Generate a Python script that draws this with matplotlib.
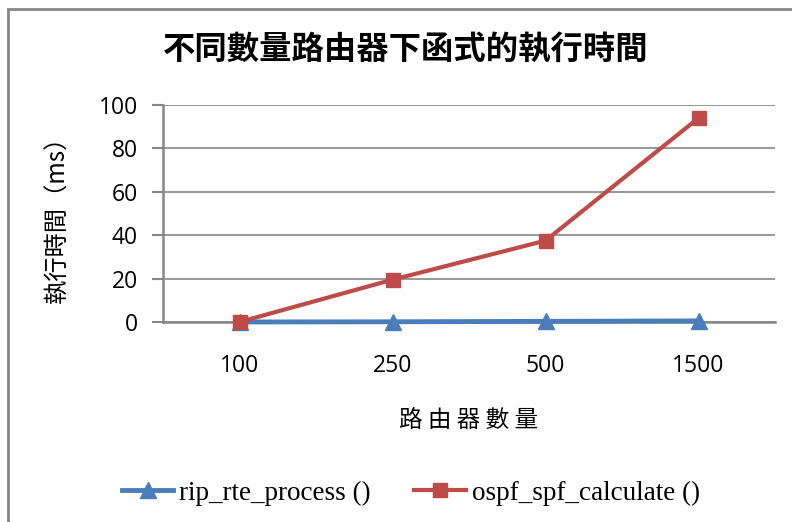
import matplotlib
matplotlib.use('Agg')
import matplotlib.pyplot as plt
from matplotlib.patches import Rectangle

# Chart data
routers = ['100', '250', '500', '1500']
rip_rte = [0.0, 0.1, 0.3, 0.5]
ospf_spf = [0.0, 19.5, 37.5, 94.0]
y_ticks = [0, 20, 40, 60, 80, 100]

cjk = ['Noto Sans CJK TC', 'DejaVu Sans']
plt.rcParams['font.family'] = cjk

fig = plt.figure(figsize=(7.92, 5.22), dpi=100)
ax = fig.add_axes([163 / 792, 1 - 322 / 522, 612 / 792, 217 / 522])

x = range(len(routers))
ax.plot(x, rip_rte, color='#4a7ebb', lw=3.5, marker='^', markersize=11,
        label='rip_rte_process ()', zorder=3, clip_on=False)
ax.plot(x, ospf_spf, color='#be4b48', lw=3, marker='s', markersize=10,
        label='ospf_spf_calculate ()', zorder=4, clip_on=False)

ax.set_xlim(-0.5, len(routers) - 0.5)
ax.set_ylim(0, 100)
ax.set_yticks(y_ticks)
ax.set_xticks(list(x))
ax.set_xticklabels(routers)
for lab in ax.get_xticklabels() + ax.get_yticklabels():
    lab.set_family(['Open Sans', 'DejaVu Sans'])
    lab.set_fontsize(16.5)
ax.tick_params(axis='x', length=0, pad=23)
ax.tick_params(axis='y', length=8, width=1.5, color='#868686', pad=10)
ax.yaxis.grid(True, color='#868686', lw=1.2)
ax.set_axisbelow(True)
for side in ['top', 'right']:
    ax.spines[side].set_visible(False)
for side in ['left', 'bottom']:
    ax.spines[side].set_color('#868686')
    ax.spines[side].set_linewidth(1.8)

ax.set_ylabel('執行時間（ms）', fontsize=17.5, labelpad=20)
ax.set_xlabel('路 由 器 數 量', fontsize=17, labelpad=22)
fig.text(406 / 792, 1 - 50 / 522, '不同數量路由器下函式的執行時間', ha='center', va='center',
         fontsize=23.3, fontweight='bold')

leg = fig.legend(loc='center', bbox_to_anchor=(411 / 792, 1 - 493 / 522), ncol=2,
                 frameon=False, prop={'family': 'Liberation Serif', 'size': 19.5},
                 handlelength=1.9, handletextpad=0.22, columnspacing=1.6)

# outer chart frame (cropped at right and bottom)
fig.patches.append(Rectangle((8 / 792, -0.1), 1.2, 1 - 9 / 522 + 0.1,
                             transform=fig.transFigure, fill=False,
                             edgecolor='#868686', lw=2))

fig.savefig('out.png', dpi=100)
